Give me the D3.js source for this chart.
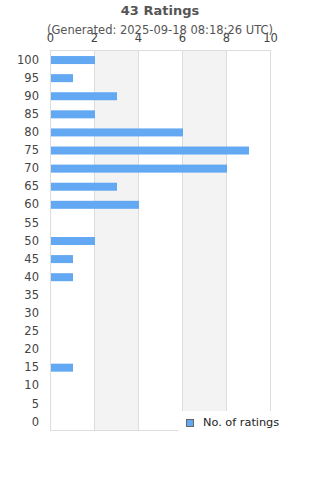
<!DOCTYPE html>
<html>
<head>
<meta charset="utf-8">
<script src="https://cdn.jsdelivr.net/npm/d3@7"></script>
<style>
  body { margin: 0; background: #fff; }
  svg { font-family: "DejaVu Sans", sans-serif; }
</style>
</head>
<body>
<div id="chart"></div>
<script>
var categories = ["100","95","90","85","80","75","70","65","60","55","50","45","40","35","30","25","20","15","10","5","0"];
var counts = [2,1,3,2,6,9,8,3,4,0,2,1,1,0,0,0,0,1,0,0,0];
var xTicks = [0,2,4,6,8,10];
var title = "43 Ratings";
var subtitle = "(Generated: 2025-09-18 08:18:26 UTC)";
var seriesName = "No. of ratings";

var width = 320, height = 480;
var margin = {top: 50, left: 50, right: 50, bottom: 50};

var svg = d3.select("#chart").append("svg")
    .attr("width", width)
    .attr("height", height);

var x = d3.scaleLinear().domain([0, 10]).range([margin.left, 270]);
var y = d3.scaleBand().domain(categories).range([margin.top + 1, 431]);

// alternating bands
svg.selectAll(".band")
    .data([[2,4],[6,8]])
    .enter().append("rect")
    .attr("x", function(d) { return x(d[0]); })
    .attr("y", margin.top)
    .attr("width", function(d) { return x(d[1]) - x(d[0]); })
    .attr("height", 430 - margin.top)
    .attr("fill", "#f3f3f3");

// grid lines
svg.selectAll(".grid")
    .data(xTicks)
    .enter().append("line")
    .attr("x1", function(d) { return x(d) + 0.5; })
    .attr("x2", function(d) { return x(d) + 0.5; })
    .attr("y1", margin.top)
    .attr("y2", 430)
    .attr("stroke", "#dddddd");

svg.append("line")
    .attr("x1", x(0)).attr("x2", x(10) + 1)
    .attr("y1", margin.top + 0.5).attr("y2", margin.top + 0.5)
    .attr("stroke", "#dddddd");
svg.append("line")
    .attr("x1", x(0)).attr("x2", x(10) + 1)
    .attr("y1", 430.5).attr("y2", 430.5)
    .attr("stroke", "#dddddd");

// bars
svg.selectAll(".bar")
    .data(counts)
    .enter().append("rect")
    .attr("class", "bar")
    .attr("x", x(0) + 1)
    .attr("y", function(d, i) { return y(categories[i]) + y.bandwidth() / 2 - 4; })
    .attr("width", function(d) { return Math.max(0, x(d) - x(0)); })
    .attr("height", 8)
    .attr("fill", "#62a8f3");

// top axis labels
svg.append("g")
    .attr("transform", "translate(0," + (margin.top - 8) + ")")
    .call(d3.axisTop(x).tickValues(xTicks).tickSize(0).tickPadding(0))
    .call(function(g) { g.select(".domain").remove(); })
    .selectAll("text")
    .attr("font-size", 11.5)
    .attr("font-family", "DejaVu Sans, sans-serif")
    .attr("fill", "#444");

// left axis labels
svg.append("g")
    .attr("transform", "translate(" + (margin.left - 11) + ",0)")
    .call(d3.axisLeft(y).tickSize(0).tickPadding(0))
    .call(function(g) { g.select(".domain").remove(); })
    .selectAll("text")
    .attr("font-size", 11.5)
    .attr("font-family", "DejaVu Sans, sans-serif")
    .attr("fill", "#444");

// titles
svg.append("text")
    .attr("x", 160).attr("y", 15)
    .attr("text-anchor", "middle")
    .attr("font-size", 13)
    .attr("font-weight", "bold")
    .attr("fill", "#555")
    .text(title);

svg.append("text")
    .attr("x", 160).attr("y", 34)
    .attr("text-anchor", "middle")
    .attr("font-size", 11.5)
    .attr("fill", "#555")
    .text(subtitle);

// legend
var legend = svg.append("g").attr("transform", "translate(178,411)");
legend.append("rect")
    .attr("width", 142).attr("height", 22)
    .attr("fill", "#fff");
legend.append("rect")
    .attr("x", 8.5).attr("y", 8.5)
    .attr("width", 7).attr("height", 7)
    .attr("fill", "#62a8f3")
    .attr("stroke", "#666");
legend.append("text")
    .attr("x", 25).attr("y", 15)
    .attr("font-size", 11.3)
    .attr("fill", "#222")
    .text(seriesName);
</script>
</body>
</html>
